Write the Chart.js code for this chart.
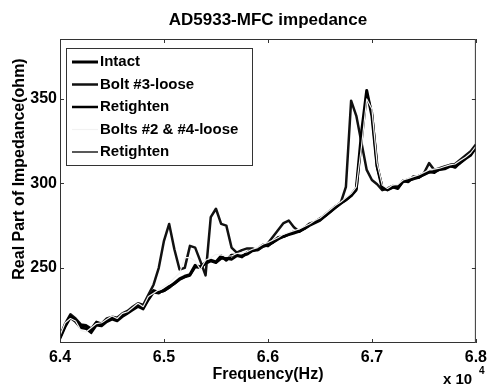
<!DOCTYPE html>
<html>
<head>
<meta charset="utf-8">
<script src="https://cdn.jsdelivr.net/npm/chart.js@4.4.1/dist/chart.umd.min.js"></script>
<style>
    body { margin: 0; background: #fff; }
</style>
</head>
<body>
<canvas id="impedance" width="492" height="388"></canvas>
<script>
// frequency grid, 64000..68000 Hz every 50 Hz
const freqs = [];
for (let f = 64000; f <= 68000; f += 50) freqs.push(f);

const intact = [
    209, 216, 221.5, 219, 216, 215.5, 213, 217.5, 216.5, 219,
    220.5, 219.5, 222, 223.5, 226, 228, 226.5, 232, 236.5, 235.5,
    236.5, 238.5, 241, 243.5, 245, 246, 251.5, 250.5, 253, 254.5,
    253.5, 257, 254.5, 257.5, 257.5, 256.5, 259, 260.5, 261, 263.5,
    263, 265.5, 268, 268.5, 270, 271.5, 271.5, 273.5, 276, 277,
    279, 281, 283.5, 286, 288.5, 290.5, 293, 297, 330, 355,
    340, 310, 297, 296.5, 298, 297, 301.5, 301, 304, 303.5,
    305.5, 307, 306.5, 308.5, 309, 310.5, 309.5, 312.5, 315, 317.5,
    321
];
const bolt3Loose = [
    209.5, 217, 222.5, 220, 216.5, 216, 214, 218, 217, 220,
    221, 220.5, 223, 224.5, 227, 229, 228, 234, 240, 250,
    266, 276, 261, 249, 250, 263, 262, 254, 245.5, 280,
    285, 276, 275, 262, 259, 260.5, 261.5, 261.5, 260.5, 262.5,
    264.5, 268.5, 272.5, 276.5, 278, 274, 271.5, 273.5, 275.5, 277,
    278.5, 281.5, 284, 286.5, 288.5, 298, 349, 340, 324, 308,
    302, 299.5, 296, 297, 298.5, 298, 301, 302.5, 303, 304.5,
    306, 312, 308, 309, 310, 311, 311.5, 314, 316.5, 319,
    323
];
const retighten1 = [
    208, 215, 220.5, 218, 214.5, 214, 211.5, 216, 215.5, 218,
    219.5, 218.5, 221, 223, 225, 227, 225.5, 231, 235.5, 235,
    237, 239, 240.5, 243, 244.5, 245.5, 250.5, 250, 252.5, 254,
    253, 255.5, 255.5, 255, 257, 257, 258, 260, 260.5, 262.5,
    263.5, 265, 267, 268.5, 269.5, 270.5, 271.5, 273, 275, 276.5,
    278, 280.5, 283, 285.5, 288, 290, 292.5, 296, 325, 353,
    342, 310, 298, 296, 297.5, 297.5, 301, 301.5, 302.5, 303.5,
    305, 306.5, 307, 308, 308.5, 310, 310, 312, 314.5, 316.5,
    321
];
const bolts24Loose = [
    210, 217.5, 220, 218.5, 213, 212, 214.5, 217, 217.5, 219.5,
    221.5, 220, 223, 224, 226.5, 229, 227, 233, 235, 237,
    239, 241, 244, 247, 256, 256, 254, 249, 254.5, 256,
    258, 257.5, 257, 257, 258.5, 259, 259.5, 261, 262, 264,
    265, 266.5, 268, 270, 271, 272, 273, 274.5, 276, 278,
    279.5, 282, 284.5, 287, 289, 291.5, 294, 298, 322, 350,
    344, 312, 299, 297, 299, 299.5, 302, 303, 304, 305,
    306.5, 308, 308.5, 309, 310, 311, 311.5, 313.5, 315.5, 318,
    322
];
const retighten2 = [
    208.5, 216.5, 221, 218.5, 215, 215, 212.5, 217, 216, 218.5,
    220, 219, 221.5, 223, 225.5, 227.5, 226, 231.5, 236, 235.5,
    236, 238, 240.5, 243, 244.5, 246, 251, 250, 252.5, 254.5,
    253, 255.5, 256, 255.5, 257, 257.5, 258, 260, 261, 262.5,
    263.5, 265, 267, 268.5, 270, 271, 272, 273, 275, 277,
    278, 280.5, 283, 286, 288, 290, 292.5, 296.5, 328, 354,
    341, 309, 297.5, 296, 297.5, 298, 301, 301.5, 302.5, 304,
    305, 306.5, 307, 308, 309, 310, 310.5, 312.5, 315, 317,
    321
];

const seriesNames = ['Intact', 'Bolt #3-loose', 'Retighten', 'Bolts #2 & #4-loose', 'Retighten'];
const xTicks = [64000, 65000, 66000, 67000, 68000];
const xTickLabels = ['6.4', '6.5', '6.6', '6.7', '6.8'];
const yTicks = [250, 300, 350];

const FONT = 'Liberation Sans, Arial, sans-serif';

function toPoints(values) {
    return values.map((v, i) => ({ x: freqs[i], y: v }));
}

// matlab-like frame, inward ticks, titles and legend
const decorations = {
    id: 'decorations',
    afterDatasetsDraw(chart) {
        const ctx = chart.ctx;
        const a = chart.chartArea;
        const xs = chart.scales.x, ys = chart.scales.y;
        ctx.save();
        ctx.strokeStyle = '#333';
        ctx.lineWidth = 1;
        ctx.strokeRect(a.left + 0.5, a.top + 0.5, a.right - a.left - 1, a.bottom - a.top - 1);
        ctx.beginPath();
        xTicks.forEach(v => {
            const px = Math.round(xs.getPixelForValue(v)) + 0.5;
            ctx.moveTo(px, a.bottom); ctx.lineTo(px, a.bottom - 4);
            ctx.moveTo(px, a.top); ctx.lineTo(px, a.top + 4);
        });
        yTicks.forEach(v => {
            const py = Math.round(ys.getPixelForValue(v)) + 0.5;
            ctx.moveTo(a.left, py); ctx.lineTo(a.left + 4, py);
            ctx.moveTo(a.right, py); ctx.lineTo(a.right - 4, py);
        });
        ctx.stroke();
        ctx.restore();
    },
    afterDraw(chart) {
        const ctx = chart.ctx;
        const a = chart.chartArea;
        const cx = (a.left + a.right) / 2;
        ctx.save();
        ctx.fillStyle = '#000';
        ctx.textBaseline = 'middle';

        ctx.textAlign = 'center';
        ctx.font = 'bold 17px ' + FONT;
        ctx.fillText('AD5933-MFC impedance', cx, 20);

        ctx.font = 'bold 16px ' + FONT;
        ctx.fillText('Frequency(Hz)', cx, 375);

        ctx.save();
        ctx.translate(20, 169);
        ctx.rotate(-Math.PI / 2);
        ctx.fillText('Real Part of Impedance(ohm)', 0, 0);
        ctx.restore();

        ctx.textAlign = 'left';
        ctx.font = 'bold 15px ' + FONT;
        ctx.fillText('x 10', 443, 380);
        ctx.font = 'bold 10px ' + FONT;
        ctx.fillText('4', 479, 371);

        // legend
        const lx = 66, ly = 48, lw = 186, lh = 117;
        ctx.fillStyle = '#fff';
        ctx.fillRect(lx, ly, lw, lh);
        ctx.strokeStyle = '#333';
        ctx.lineWidth = 1;
        ctx.strokeRect(lx + 0.5, ly + 0.5, lw, lh);
        ctx.font = 'bold 15px ' + FONT;
        chart.data.datasets.forEach((ds, i) => {
            const y = 62 + i * 22.5;
            ctx.strokeStyle = ds.borderColor;
            ctx.lineWidth = ds.borderWidth;
            ctx.beginPath();
            ctx.moveTo(72, y);
            ctx.lineTo(98, y);
            ctx.stroke();
            ctx.fillStyle = '#000';
            ctx.fillText(ds.label, 100, y);
        });
        ctx.restore();
    }
};

new Chart(document.getElementById('impedance'), {
    type: 'line',
    data: {
        datasets: [
            { label: seriesNames[0], data: toPoints(intact), borderColor: '#000', borderWidth: 3, order: 1 },
            { label: seriesNames[1], data: toPoints(bolt3Loose), borderColor: '#111', borderWidth: 2.5, order: 2 },
            { label: seriesNames[2], data: toPoints(retighten1), borderColor: '#000', borderWidth: 2.5, order: 3 },
            { label: seriesNames[3], data: toPoints(bolts24Loose), borderColor: '#f2f2f2', borderWidth: 1.2, order: 0 },
            { label: seriesNames[4], data: toPoints(retighten2), borderColor: '#222', borderWidth: 1.5, order: 4 }
        ]
    },
    options: {
        responsive: false,
        animation: false,
        elements: {
            point: { radius: 0 },
            line: { tension: 0, borderJoinStyle: 'round', fill: false }
        },
        layout: { padding: { top: 39, right: 13, left: 0, bottom: 0 } },
        plugins: {
            legend: { display: false },
            title: { display: false },
            tooltip: { enabled: false }
        },
        scales: {
            x: {
                type: 'linear',
                min: 64000,
                max: 68000,
                grid: { display: false, drawTicks: false },
                border: { display: false },
                afterBuildTicks: s => { s.ticks = xTicks.map(v => ({ value: v })); },
                afterFit: s => { s.height = 45; },
                ticks: {
                    autoSkip: false,
                    maxRotation: 0,
                    padding: 5,
                    color: '#000',
                    font: { family: FONT, size: 16, weight: 'bold' },
                    callback: (v, i) => xTickLabels[i]
                }
            },
            y: {
                min: 205.5,
                max: 385.5,
                grid: { display: false, drawTicks: false },
                border: { display: false },
                afterBuildTicks: s => { s.ticks = yTicks.map(v => ({ value: v })); },
                afterFit: s => { s.width = 60; },
                ticks: {
                    padding: 3,
                    color: '#000',
                    font: { family: FONT, size: 16, weight: 'bold' }
                }
            }
        }
    },
    plugins: [decorations]
});
</script>
</body>
</html>
